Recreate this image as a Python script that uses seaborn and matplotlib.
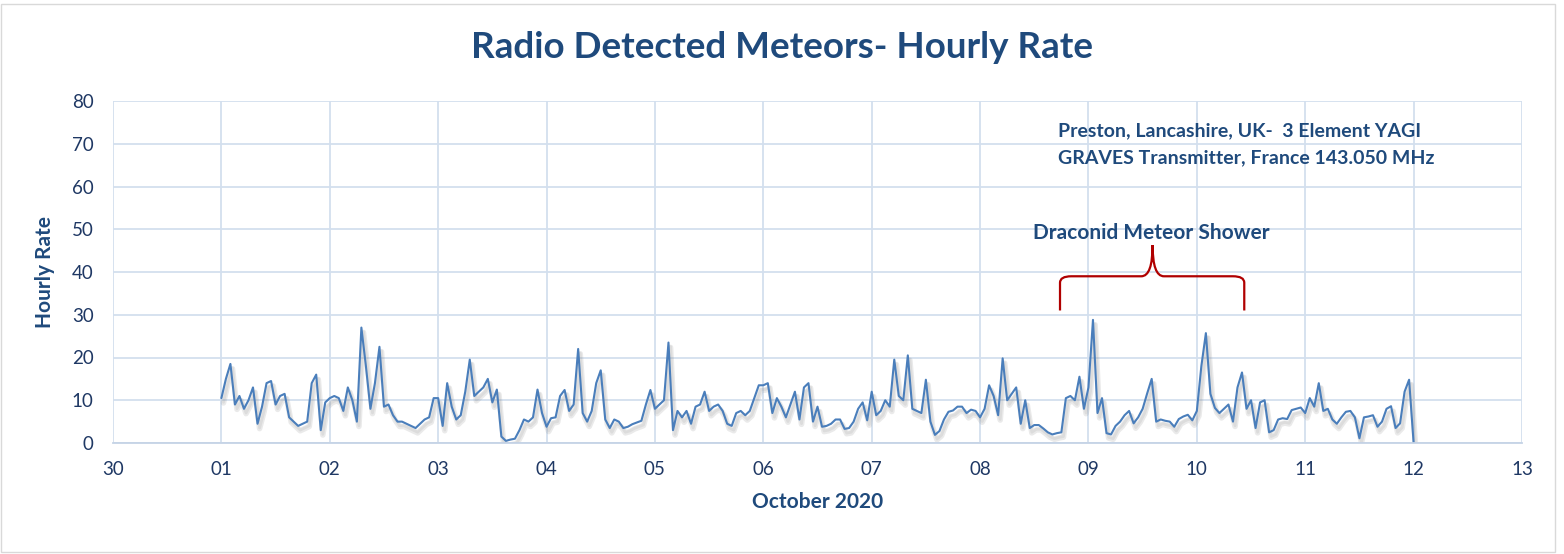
import numpy as np
import pandas as pd
import matplotlib
matplotlib.use("Agg")
import matplotlib.pyplot as plt
import matplotlib.dates as mdates
import matplotlib.patheffects as pe
from matplotlib.path import Path
from matplotlib.patches import PathPatch, Rectangle
import seaborn as sns

# ---- data: hourly meteor rate, October 2020 ----
oct01 = [10.5, 15, 18.5, 9, 11, 8, 10, 13, 4.5, 8.5, 14, 14.5, 9, 11, 11.5, 6, 5, 4, 4.5, 5, 14, 16, 3, 9.5]
oct02 = [10.5, 11, 10.5, 7.5, 13, 10, 5, 27, 18, 8, 14, 22.5, 8.5, 9, 6.5, 5, 5, 4.5, 4, 3.5, 4.5, 5.5, 6, 10.5]
oct03 = [10.5, 4, 14, 8.5, 5.5, 6.5, 12, 19.5, 11, 12, 13, 15, 9.5, 12.5, 1.5, 0.5, 0.8, 1, 3, 5.5, 5, 6, 12.5, 7]
oct04 = [3.8, 5.8, 6, 11, 12.4, 7.5, 9, 22, 7, 5, 7.5, 14, 17, 5.5, 3.5, 5.5, 5, 3.5, 3.8, 4.4, 4.8, 5.2, 9, 12.4]
oct05 = [8, 9, 10, 23.5, 3, 7.5, 6, 7.5, 4.5, 8.5, 9, 12, 7.5, 8.5, 9, 7.5, 4.5, 4, 7, 7.5, 6.5, 7.5, 10.5, 13.5]
oct06 = [13.5, 14, 7, 10.5, 8.5, 6, 9, 12, 5.5, 13, 14, 5, 8.5, 3.8, 4, 4.5, 5.5, 5.5, 3.3, 3.5, 5, 8, 9.5, 5.3]
oct07 = [12, 6.5, 7.5, 10, 8.5, 19.5, 11, 10, 20.5, 8, 7.5, 7, 14.8, 5, 1.9, 2.8, 5.5, 7.3, 7.6, 8.5, 8.5, 7, 7.8, 7.5]
oct08 = [6, 8, 13.5, 11, 6.5, 19.8, 10, 11.5, 13, 4.5, 10, 3.5, 4.2, 4.2, 3.4, 2.5, 2, 2.3, 2.5, 10.5, 11, 10, 15.5, 8]
oct09 = [13, 28.8, 7, 10.5, 2.3, 2, 4, 5, 6.5, 7.5, 4.6, 6, 8, 11.6, 15, 5, 5.5, 5.2, 5, 3.8, 5.6, 6.2, 6.6, 5.3]
oct10 = [7.5, 18, 25.7, 11.5, 8.2, 7, 8, 9, 5, 13, 16.5, 8, 10, 3.5, 9.5, 10, 2.5, 3, 5.5, 5.8, 5.6, 7.7, 8, 8.3]
oct11 = [7, 10.5, 8.5, 14, 7.5, 8, 5.5, 4.5, 6, 7.3, 7.5, 6, 1.1, 6, 6.2, 6.5, 3.8, 5, 8, 8.6, 3.5, 4.6, 12, 14.8]
oct12 = [0]

rates = oct01 + oct02 + oct03 + oct04 + oct05 + oct06 + oct07 + oct08 + oct09 + oct10 + oct11 + oct12
times = pd.date_range("2020-10-01 00:00", periods=len(rates), freq="h")
df = pd.DataFrame({"time": times, "rate": rates})

title = "Radio Detected Meteors- Hourly Rate"
info_lines = ["Preston, Lancashire, UK-  3 Element YAGI", "GRAVES Transmitter, France 143.050 MHz"]
shower_label = "Draconid Meteor Shower"

# ---- style ----
sns.set_theme(style="white")
plt.rcParams["font.family"] = ["Lato", "DejaVu Sans"]

navy = "#1F4A7C"
tick_col = "#1F3864"
grid_col = "#D3DFEE"
line_col = "#4A7EBB"
bracket_col = "#B00000"

fig = plt.figure(figsize=(15.64, 5.54), dpi=100)
ax = fig.add_axes([113 / 1564, 111 / 554, (1522 - 113) / 1564, (443 - 101) / 554])

sns.lineplot(data=df, x="time", y="rate", ax=ax, color=line_col, linewidth=1.5,
             path_effects=[pe.SimpleLineShadow(offset=(1.5, -3.5), shadow_color="#8C8C8C", alpha=0.18, linewidth=4),
                           pe.SimpleLineShadow(offset=(1.5, -3), shadow_color="#8C8C8C", alpha=0.15, linewidth=2),
                           pe.Normal()])

x0 = pd.Timestamp("2020-09-30")
x1 = pd.Timestamp("2020-10-13")
ax.set_xlim(x0, x1)
ax.set_ylim(0, 80)
ax.xaxis.set_major_locator(mdates.DayLocator())
ax.xaxis.set_major_formatter(mdates.DateFormatter("%d"))
ax.set_yticks(np.arange(0, 81, 10))

ax.grid(True, color=grid_col, linewidth=1.3)
ax.set_axisbelow(True)
for side in ["top", "right", "left"]:
    ax.spines[side].set_visible(False)
ax.spines["bottom"].set_color("#C5D3E6")
ax.spines["bottom"].set_linewidth(1.3)
ax.tick_params(axis="x", length=0, pad=13, labelsize=13.5, labelcolor=tick_col)
ax.tick_params(axis="y", length=0, pad=14, labelsize=13.5, labelcolor=tick_col)

ax.set_xlabel("October 2020", fontsize=15, fontweight="bold", color=navy, labelpad=10)
ax.set_ylabel("Hourly Rate", fontsize=15, fontweight="bold", color=navy, labelpad=12)

fig.text(782 / 1564, 1 - 47 / 554, title, ha="center", va="center",
         fontsize=26.5, fontweight="bold", color=navy)

fig.text(1058 / 1564, 1 - 131 / 554, info_lines[0], ha="left", va="center",
         fontsize=14, fontweight="bold", color=navy)
fig.text(1058 / 1564, 1 - 158 / 554, info_lines[1], ha="left", va="center",
         fontsize=14, fontweight="bold", color=navy)

fig.text(1151 / 1564, 1 - 233 / 554, shower_label, ha="center", va="center",
         fontsize=15, fontweight="bold", color=navy)

# curly bracket over the shower period (annotation, in data coordinates)
def dn(day, hour):
    return mdates.date2num(pd.Timestamp(2020, 10, day) + pd.Timedelta(hours=hour))

bl, bc, br = dn(8, 17.7), dn(9, 14.2), dn(10, 10.5)
yb, yh, yt = 31.0, 39.0, 46.3
r = dn(8, 2.5) - dn(8, 0)
verts = [(bl, yb), (bl, yh - 1.5), (bl, yh), (bl + r, yh),
         (bc - r, yh), (bc, yh), (bc, yt),
         (bc, yh), (bc + r, yh),
         (br - r, yh), (br, yh), (br, yh - 1.5), (br, yb)]
codes = [Path.MOVETO, Path.LINETO, Path.CURVE3, Path.CURVE3,
         Path.LINETO, Path.CURVE3, Path.CURVE3,
         Path.CURVE3, Path.CURVE3,
         Path.LINETO, Path.CURVE3, Path.CURVE3, Path.LINETO]
ax.add_patch(PathPatch(Path(verts, codes), facecolor="none", edgecolor=bracket_col, linewidth=1.6))

# chart border
fig.patches.append(Rectangle((1 / 1564, 2 / 554), 1554 / 1564, 548 / 554, transform=fig.transFigure,
                             fill=False, edgecolor="#D9D9D9", linewidth=1))

fig.savefig("out.png", dpi=100)
